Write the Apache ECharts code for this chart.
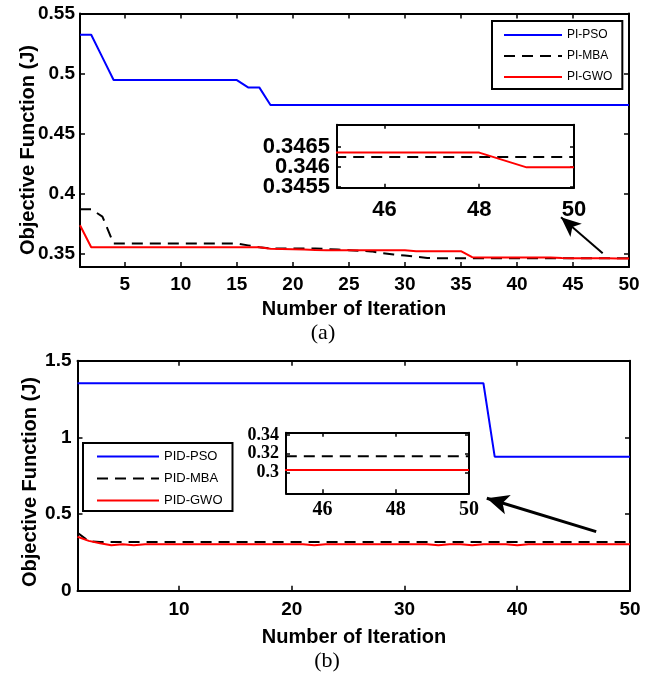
<!DOCTYPE html>
<html><head><meta charset="utf-8">
<script src="https://cdn.jsdelivr.net/npm/echarts@6/dist/echarts.min.js"></script>
<style>html,body{margin:0;padding:0;background:#fff}#c{width:656px;height:675px}</style>
</head><body><div id="c"></div>
<script>
// ---------------- DATA ----------------
const iterations = [1,2,3,4,5,6,7,8,9,10,11,12,13,14,15,16,17,18,19,20,21,22,23,24,25,26,27,28,29,30,31,32,33,34,35,36,37,38,39,40,41,42,43,44,45,46,47,48,49,50];

// (a) PI controllers
const piPSO = [0.5323,0.5323,0.5135,0.4946,
  0.4946,0.4946,0.4946,0.4946,0.4946,0.4946,0.4946,0.4946,0.4946,0.4946,0.4946,
  0.4885,0.4885,0.4738,
  0.4738,0.4738,0.4738,0.4738,0.4738,0.4738,0.4738,0.4738,0.4738,0.4738,0.4738,0.4738,0.4738,0.4738,0.4738,0.4738,
  0.4738,0.4738,0.4738,0.4738,0.4738,0.4738,0.4738,0.4738,0.4738,0.4738,0.4738,0.4738,0.4738,0.4738,0.4738,0.4738];
const piMBA = [0.387,0.387,0.381,0.3585,
  0.3585,0.3585,0.3585,0.3585,0.3585,0.3585,0.3585,0.3585,0.3585,0.3585,0.3585,
  0.357,0.3555,
  0.3545,0.3545,0.3545,0.3545,0.3545,
  0.354,0.3535,0.353,0.3525,0.352,0.3505,0.3495,0.3485,0.3475,0.3465,
  0.34624,0.34624,0.34624,0.34624,0.34624,0.34624,0.34624,0.34624,0.34624,0.34624,0.34624,0.34624,0.34624,0.34624,0.34624,0.34624,0.34624,0.34624];
const piGWO = [0.3738,0.3555,
  0.3555,0.3555,0.3555,0.3555,0.3555,0.3555,0.3555,0.3555,0.3555,0.3555,0.3555,0.3555,0.3555,0.3555,0.3555,
  0.3542,0.354,0.3538,0.3536,0.3532,
  0.353,0.353,0.353,0.353,0.353,0.353,0.353,0.353,
  0.3522,0.3522,0.3522,0.3522,0.3522,
  0.3472,
  0.347,0.347,0.347,0.347,0.347,0.347,0.347,
  0.3465,
  0.34635,0.34635,0.34635,0.34635,0.34598,0.34598];

// (b) PID controllers
const pidPSO = [1.353,1.353,1.353,1.353,1.353,1.353,1.353,1.353,1.353,1.353,1.353,1.353,1.353,1.353,1.353,1.353,1.353,1.353,1.353,1.353,
  1.353,1.353,1.353,1.353,1.353,1.353,1.353,1.353,1.353,1.353,1.353,1.353,1.353,1.353,1.353,1.353,1.353,
  0.874,0.874,0.874,0.874,0.874,0.874,0.874,0.874,0.874,0.874,0.874,0.874,0.874];
const pidMBA = [0.378,0.322,
  0.3175,0.3175,0.3175,0.3175,0.3175,0.3175,0.3175,0.3175,0.3175,0.3175,0.3175,0.3175,0.3175,0.3175,0.3175,0.3175,
  0.3175,0.3175,0.3175,0.3175,0.3175,0.3175,0.3175,0.3175,0.3175,0.3175,0.3175,0.3175,0.3175,0.3175,0.3175,0.3175,
  0.3175,0.3175,0.3175,0.3175,0.3175,0.3175,0.3175,0.3175,0.3175,0.3175,0.3175,0.3175,0.3175,0.3175,0.3175,0.3175];
const pidGWO = [0.352,0.325,0.31,0.296,0.3028,0.296,
  0.3028,0.3028,0.3028,0.3028,0.3028,0.3028,0.3028,0.3028,0.3028,0.3028,0.3028,0.3028,0.3028,0.3028,0.3028,
  0.296,
  0.3028,0.3028,0.3028,0.3028,0.3028,0.3028,0.3028,0.3028,0.3028,0.3028,
  0.296,0.3028,0.3028,0.296,0.3028,0.3028,0.3028,0.296,
  0.3028,0.3028,0.3028,0.3028,0.3028,0.3028,0.3028,0.3028,0.3028,0.3028];

// tick labels
const xTicksA = [5,10,15,20,25,30,35,40,45,50];
const yTicksA = [0.35,0.4,0.45,0.5,0.55];
const xTicksB = [10,20,30,40,50];
const yTicksB = [0,0.5,1,1.5];
const insetXTicks = [46,48,50];
const insetYTicksA = [0.3455,0.346,0.3465];
const insetYTicksB = [0.3,0.32,0.34];
const namesA = ['PI-PSO','PI-MBA','PI-GWO'];
const namesB = ['PID-PSO','PID-MBA','PID-GWO'];

// ---------------- CHART ----------------
const SANS = '"Liberation Sans", Arial, sans-serif';
const SERIF = '"Liberation Serif", "Times New Roman", serif';
const pts = v => iterations.map((x, i) => [x, v[i]]);

function axis(grid, min, max, ticks, position, lbl, labelValues) {
  return {
    type: 'value', gridIndex: grid, min: min, max: max, position: position,
    splitLine: {show: false},
    axisLine: {show: true, onZero: false, lineStyle: {color: '#000', width: 2}},
    axisTick: {show: true, inside: true, length: grid >= 2 ? 4 : 5, customValues: ticks, lineStyle: {color: '#000', width: 1.5}},
    axisLabel: lbl ? Object.assign({show: true, customValues: labelValues || ticks, color: '#000', fontWeight: 'bold', hideOverlap: false}, lbl) : {show: false}
  };
}
// label-only axis (used so that closely spaced inset labels are all kept)
function labelAxis(grid, min, max, value, lbl) {
  const a = axis(grid, min, max, [value], 'left', lbl, [value]);
  a.axisLine = {show: false, onZero: false};
  a.axisTick = {show: false};
  return a;
}

const insetAYLabel = {fontSize: 22, fontFamily: SANS, margin: 7};

const xAxes = [
  axis(0, 1, 50, xTicksA, 'bottom', {fontSize: 19, fontFamily: SANS, margin: 8}),
  axis(0, 1, 50, xTicksA, 'top', null),
  axis(1, 1, 50, xTicksB, 'bottom', {fontSize: 19, fontFamily: SANS, margin: 10}),
  axis(1, 1, 50, xTicksB, 'top', null),
  axis(2, 45, 50, insetXTicks, 'bottom', {fontSize: 22, fontFamily: SANS, margin: 11}),
  axis(2, 45, 50, insetXTicks, 'top', null),
  axis(3, 45, 50, insetXTicks, 'bottom', {fontSize: 20, fontFamily: SERIF, margin: 7}),
  axis(3, 45, 50, insetXTicks, 'top', null)
];
const yAxes = [
  axis(0, 0.339, 0.55, yTicksA, 'left', {fontSize: 19, fontFamily: SANS, margin: 5}),
  axis(0, 0.339, 0.55, yTicksA, 'right', null),
  axis(1, 0, 1.5, yTicksB, 'left', {fontSize: 19, fontFamily: SANS, margin: 6}),
  axis(1, 0, 1.5, yTicksB, 'right', null),
  axis(2, 0.34547, 0.34705, insetYTicksA, 'left', insetAYLabel, [insetYTicksA[0]]),
  axis(2, 0.34547, 0.34705, insetYTicksA, 'right', null),
  axis(3, 0.278, 0.3424, insetYTicksB, 'left', {fontSize: 18, lineHeight: 16, fontFamily: SERIF, margin: 7}),
  axis(3, 0.278, 0.3424, insetYTicksB, 'right', null),
  labelAxis(2, 0.34547, 0.34705, insetYTicksA[1], insetAYLabel),
  labelAxis(2, 0.34547, 0.34705, insetYTicksA[2], insetAYLabel)
];

const DASH = [11, 7];
function line(name, data, grid, color, dashed, extra) {
  return Object.assign({
    type: 'line', name: name, data: pts(data),
    xAxisIndex: grid * 2, yAxisIndex: grid * 2,
    symbol: 'none', showSymbol: false, clip: true, silent: true,
    lineStyle: {color: color, width: 2, type: dashed ? DASH : 'solid'},
    itemStyle: {color: color, opacity: 0},
    emphasis: {disabled: true}
  }, extra || {});
}
function arrow(from, to, size, width) {
  return {
    silent: true, symbol: ['none', 'arrow'], symbolSize: size,
    lineStyle: {color: '#000', width: width, type: 'solid', opacity: 1},
    itemStyle: {color: '#000', opacity: 1},
    label: {show: false}, emphasis: {disabled: true},
    data: [[{coord: from}, {coord: to}]]
  };
}

const series = [
  line(namesA[0], piPSO, 0, '#0000ff', false, {markLine: arrow([47.65, 0.3504], [43.93, 0.3804], [13, 20], 2)}),
  line(namesA[1], piMBA, 0, '#000000', true),
  line(namesA[2], piGWO, 0, '#ff0000', false),
  line(namesB[0], pidPSO, 1, '#0000ff', false, {markLine: arrow([47.0, 0.385], [37.3, 0.603], [15, 22], 3)}),
  line(namesB[1], pidMBA, 1, '#000000', true),
  line(namesB[2], pidGWO, 1, '#ff0000', false),
  line('inset ' + namesA[1], piMBA, 2, '#000000', true),
  line('inset ' + namesA[2], piGWO, 2, '#ff0000', false),
  line('inset ' + namesB[1], pidMBA, 3, '#000000', true),
  line('inset ' + namesB[2], pidGWO, 3, '#ff0000', false)
];

function legend(names, left, top, itemW, itemH, gap, fs, pad) {
  return {
    data: names, orient: 'vertical', left: left, top: top,
    itemWidth: itemW, itemHeight: itemH, itemGap: gap,
    padding: pad, borderColor: '#000', borderWidth: 2, backgroundColor: '#fff',
    selectedMode: false,
    itemStyle: {opacity: 0},
    textStyle: {fontSize: fs, color: '#000', fontFamily: SANS}
  };
}

const option = {
  animation: false,
  backgroundColor: '#fff',
  grid: [
    {left: 80, top: 13.5, width: 549, height: 253.5},
    {left: 77.5, top: 360.7, width: 552.5, height: 230},
    {left: 337, top: 124.7, width: 237, height: 63, show: true, backgroundColor: '#fff', borderWidth: 0},
    {left: 286, top: 432.7, width: 183, height: 60.6, show: true, backgroundColor: '#fff', borderWidth: 0}
  ],
  xAxis: xAxes,
  yAxis: yAxes,
  legend: [
    legend(namesA, 492, 21, 58, 14, 9, 12, [8, 10, 6, 11]),
    legend(namesB, 83, 443, 62, 15, 9, 13, [7, 10, 4, 13])
  ],
  series: series,
  graphic: [
    {type: 'text', x: 354, y: 309, style: {text: 'Number of Iteration', font: 'bold 20px ' + SANS, fill: '#000', align: 'center', verticalAlign: 'middle'}},
    {type: 'text', x: 323, y: 333, style: {text: '(a)', font: '22px ' + SERIF, fill: '#000', align: 'center', verticalAlign: 'middle'}},
    {type: 'text', x: 28, y: 150, rotation: Math.PI / 2, style: {text: 'Objective Function (J)', font: 'bold 20px ' + SANS, fill: '#000', align: 'center', verticalAlign: 'middle'}},
    {type: 'text', x: 354, y: 637, style: {text: 'Number of Iteration', font: 'bold 20px ' + SANS, fill: '#000', align: 'center', verticalAlign: 'middle'}},
    {type: 'text', x: 327, y: 661, style: {text: '(b)', font: '22px ' + SERIF, fill: '#000', align: 'center', verticalAlign: 'middle'}},
    {type: 'text', x: 30, y: 482, rotation: Math.PI / 2, style: {text: 'Objective Function (J)', font: 'bold 20px ' + SANS, fill: '#000', align: 'center', verticalAlign: 'middle'}}
  ]
};

const chart = echarts.init(document.getElementById('c'), null, {renderer: 'canvas'});
chart.setOption(option);
</script>
</body></html>
